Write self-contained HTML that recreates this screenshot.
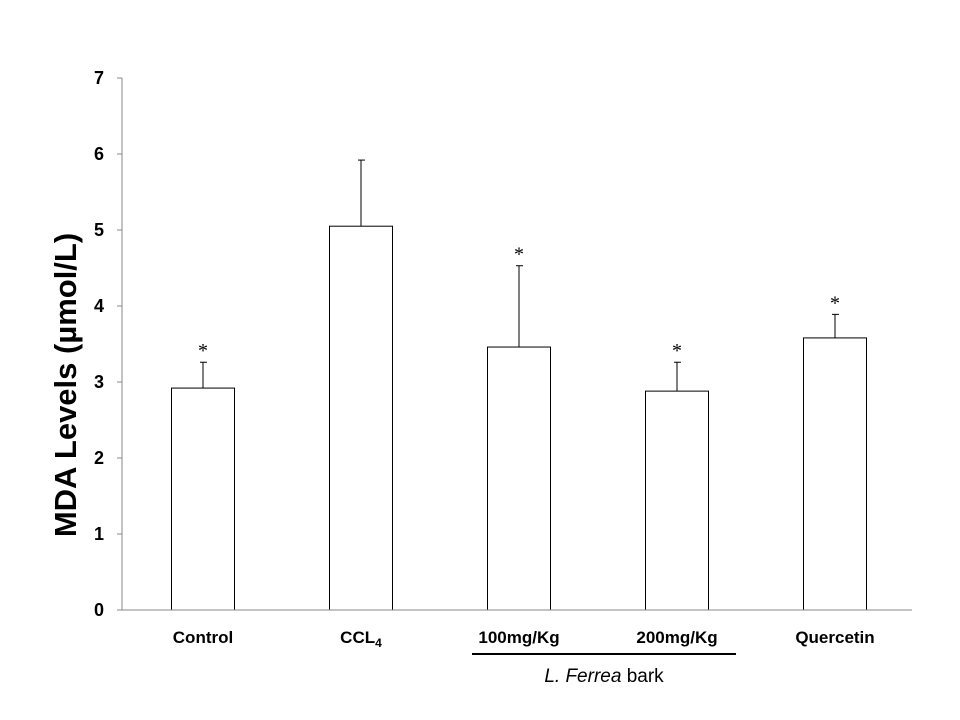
<!DOCTYPE html>
<html><head><meta charset="utf-8"><style>
body{margin:0;background:#fff}
svg{display:block;font-family:"Liberation Sans",sans-serif}
</style></head><body>
<svg id="c" width="960" height="720">
<text transform="translate(76,385) rotate(-90)" text-anchor="middle" font-size="31" font-weight="bold">MDA  Levels (µmol/L)</text>
<line x1="472" y1="654" x2="736" y2="654" stroke="#000" stroke-width="2"/>
<text x="604" y="682" text-anchor="middle" font-size="19"><tspan font-style="italic">L. Ferrea</tspan> bark</text>
</svg>
<script>
const categories=["Control","CCL4","100mg/Kg","200mg/Kg","Quercetin"];
const values=[2.92,5.05,3.46,2.88,3.58];
const errors=[0.34,0.87,1.07,0.38,0.31];
const significant=[true,false,true,true,true];
const yTicks=[0,1,2,3,4,5,6,7];
const svg=document.getElementById('c');const NS='http://www.w3.org/2000/svg';
const x0=122,x1=912,y0=610,yTop=78;
const y=v=>y0-(v/7)*(y0-yTop);
const band=(x1-x0)/categories.length;
const xc=i=>x0+2+band*(i+0.5);
function mk(t,a,p){const e=document.createElementNS(NS,t);for(const k in a)e.setAttribute(k,a[k]);(p||svg).appendChild(e);return e;}
yTicks.forEach(t=>{
 const l=mk('line',{x1:117,x2:x0,y1:y(t),y2:y(t),stroke:'#888'});
 
 
 const tx=mk('text',{x:104,y:y(t)+6,'text-anchor':'end','font-size':18,'font-weight':'bold'});
 tx.textContent=t;
 
 
});
categories.forEach((c,i)=>{
 const cx=xc(i),w=63;
 const eb=mk('line',{x1:cx,x2:cx,y1:y(values[i]),y2:y(values[i]+errors[i]),stroke:'#000'});
 
 
 const cap=mk('line',{x1:cx-3,x2:cx+4,y1:y(values[i]+errors[i]),y2:y(values[i]+errors[i]),stroke:'#000'});
 
 
 const r=mk('rect',{x:cx-w/2,y:y(values[i]),width:w,height:y0-y(values[i]),fill:'#fff',stroke:'#000'});
 
 
 if(significant[i]){const s=mk('text',{x:cx,y:y(values[i]+errors[i])-5,'text-anchor':'middle','font-size':20,'font-family':'Liberation Serif'});s.textContent='*';
 
 }
 const lb=mk('text',{x:cx,y:643,'text-anchor':'middle','font-size':17,'font-weight':'bold'});
 if(c==='CCL4'){lb.textContent='CCL';const sub=mk('tspan',{'font-size':12,dy:4},lb);sub.textContent='4';}else lb.textContent=c;
 
 
});
const ya=mk('line',{x1:x0,x2:x0,y1:yTop,y2:y0,stroke:'#888'});


const xa=mk('line',{x1:x0,x2:x1,y1:y0,y2:y0,stroke:'#888'});


</script>
</body></html>
